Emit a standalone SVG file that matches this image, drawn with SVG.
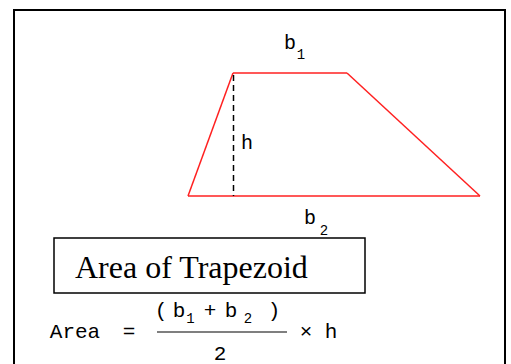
<svg xmlns="http://www.w3.org/2000/svg" width="511" height="364" viewBox="0 0 511 364">
<style>
.m{font-family:"Liberation Mono","Courier New",monospace;fill:#000;text-anchor:middle}
.lab{font-size:20px}
.sub{font-size:14px}
.f{font-size:21px}
.red{stroke:#ff2020;fill:none;stroke-width:1.5}
</style>
<rect width="511" height="364" fill="#fff"/>
<rect id="frame" x="14" y="10" width="491" height="400" fill="none" stroke="#000" stroke-width="2"/>
<g id="trapezoid">
<line class="red" x1="233" y1="73" x2="347" y2="73"/>
<line class="red" x1="233" y1="73" x2="188" y2="196"/>
<line class="red" x1="188" y1="196" x2="480" y2="196"/>
<line class="red" x1="347" y1="73" x2="480" y2="196" stroke-width="1"/>
</g>
<g id="connectors">
<line x1="233.5" y1="75" x2="233.5" y2="196" stroke="#000" stroke-width="1.5" stroke-dasharray="6,4"/>
</g>
<g id="label-b1">
<text class="m lab" x="290" y="49">b</text>
<text class="m sub" x="301" y="59">1</text>
</g>
<g id="label-h">
<text class="m lab" x="247" y="149">h</text>
</g>
<g id="label-b2">
<text class="m lab" x="310" y="224">b</text>
<text class="m sub" x="324" y="235">2</text>
</g>
<g id="title">
<rect x="54" y="238" width="311" height="55" fill="none" stroke="#000" stroke-width="1.5"/>
<text x="75" y="278" font-family="Liberation Serif,'Times New Roman',serif" font-size="32" fill="#000">Area of Trapezoid</text>
</g>
<g id="formula">
<text class="m f" x="75" y="338">Area</text>
<text class="m f" x="129" y="338">=</text>
<line x1="157" y1="332" x2="287" y2="332" stroke="#000" stroke-width="1.2"/>
<text class="m f" x="161" y="317">(</text>
<text class="m f" x="179" y="317">b</text>
<text class="m sub" x="190.5" y="323">1</text>
<text class="m f" x="210" y="317">+</text>
<text class="m f" x="231" y="317">b</text>
<text class="m sub" x="248" y="323">2</text>
<text class="m f" x="274" y="317">)</text>
<text class="m f" x="306" y="338">×</text>
<text class="m f" x="331" y="338">h</text>
<text class="m f" x="220" y="360">2</text>
</g>
</svg>
